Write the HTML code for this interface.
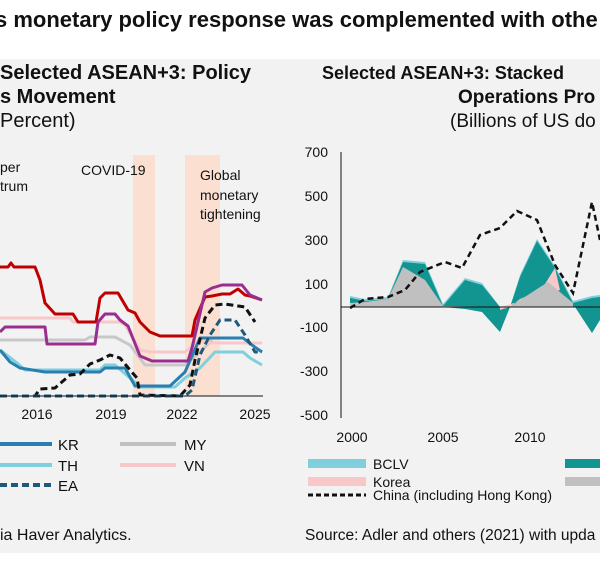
<!DOCTYPE html>
<html><head><meta charset="utf-8"><style>
body{margin:0;width:600px;height:565px;background:#fff;overflow:hidden;font-family:"Liberation Sans",Arial,sans-serif}
</style></head><body>
<svg width="600" height="565" viewBox="0 0 600 565" xmlns="http://www.w3.org/2000/svg" font-family="Liberation Sans, Arial, sans-serif">
<rect x="0" y="59" width="600" height="494" fill="#f2f2f2"/>
<text x="-5" y="27" font-size="22" font-weight="bold" fill="#111">s monetary policy response was complemented with othe</text>
<!-- left titles -->
<text x="0" y="79" font-size="20" font-weight="bold" fill="#111">Selected ASEAN+3: Policy</text>
<text x="0" y="103" font-size="20" font-weight="bold" fill="#111">s Movement</text>
<text x="0" y="127" font-size="20" fill="#111">Percent)</text>
<!-- right titles -->
<text x="322" y="79" font-size="18" font-weight="bold" fill="#111">Selected ASEAN+3: Stacked</text>
<text x="458" y="103" font-size="19" font-weight="bold" fill="#111">Operations Pro</text>
<text x="450" y="127" font-size="19" fill="#111">(Billions of US do</text>

<!-- left chart -->
<rect x="133" y="155" width="22" height="241" fill="#fbe0d2"/>
<rect x="185" y="155" width="35" height="241" fill="#fbe0d2"/>
<text x="0" y="172" font-size="14" fill="#111">per</text>
<text x="0" y="191" font-size="14" fill="#111">trum</text>
<text x="81" y="175" font-size="14" fill="#111">COVID-19</text>
<text x="200" y="180" font-size="14" fill="#111">Global</text>
<text x="200" y="200" font-size="14" fill="#111">monetary</text>
<text x="200" y="219" font-size="14" fill="#111">tightening</text>
<g fill="none" stroke-width="3" stroke-linejoin="round">
<polyline stroke="#c8c8c8" points="0,340 85,340 90,337 115,337 130,345 145,365 185,365 200,352 212,340"/>
<polyline stroke="#f8c8c8" points="0,318 70,318 73,322 120,322 125,325 140,350 150,352 185,352 200,340 205,343 262,343"/>
<polyline stroke="#7fd0dc" points="0,350 17,363 25,370 100,370 105,365 115,365 130,378 140,387 175,387 185,378 200,368 215,352 243,352 250,358 262,365"/>
<polyline stroke="#2a7fb0" points="0,350 10,362 20,368 45,372 100,372 105,368 125,368 135,386 170,386 185,372 200,338 243,338 252,345 262,352"/>
<polyline stroke="#c00000" points="0,267 8,267 11,263 14,267 35,267 40,280 45,303 55,314 73,314 78,322 96,322 100,298 105,293 118,293 128,310 135,313 140,322 150,332 160,336 192,336 195,320 205,297 212,296 222,294 230,294 238,289 245,295 250,296 262,300"/>
<polyline stroke="#9b2d8f" points="0,332 5,327 45,327 47,344 95,344 98,322 105,314 115,314 120,320 128,326 140,356 152,361 188,361 192,348 205,292 212,288 222,285 242,285 250,295 262,300"/>
<polyline stroke="#111" stroke-dasharray="7,4" points="0,396 35,396 40,389 55,388 70,375 80,374 90,364 100,360 110,355 120,358 130,370 137,378 140,395 180,396 190,385 195,360 205,318 215,305 225,304 245,307 255,322"/>
<polyline stroke="#1f5a7a" stroke-dasharray="7,4" points="0,396 185,396 192,390 200,355 210,335 220,320 235,320 245,335 255,352 262,352"/>
</g>
<line x1="0" y1="396" x2="263" y2="396" stroke="#111" stroke-width="1"/>
<g font-size="14" fill="#111" text-anchor="middle">
<text x="37" y="419">2016</text><text x="111" y="419">2019</text><text x="182" y="419">2022</text><text x="255" y="419">2025</text>
</g>
<!-- left legend -->
<g stroke-width="4">
<line x1="0" y1="444" x2="52" y2="444" stroke="#2a7fb0"/>
<line x1="120" y1="444" x2="176" y2="444" stroke="#c0c0c0"/>
<line x1="0" y1="465" x2="52" y2="465" stroke="#7fd0dc"/>
<line x1="120" y1="465" x2="176" y2="465" stroke="#f8c8c8"/>
<line x1="0" y1="485" x2="52" y2="485" stroke="#1f5a7a" stroke-dasharray="7,4"/>
</g>
<g font-size="15" fill="#111">
<text x="58" y="450">KR</text><text x="184" y="450">MY</text>
<text x="58" y="471">TH</text><text x="184" y="471">VN</text>
<text x="58" y="491">EA</text>
<text x="0" y="540" font-size="16">ia Haver Analytics.</text>
</g>

<!-- right chart -->
<g font-size="14" fill="#111" text-anchor="end">
<text x="328" y="157">700</text><text x="328" y="201">500</text><text x="328" y="245">300</text><text x="328" y="289">100</text><text x="328" y="332">-100</text><text x="328" y="376">-300</text><text x="328" y="420">-500</text>
</g>
<polygon fill="#7fd0dc" points="350,296 365,299 388,297 403,260 425,262 443,304 465,278 482,283 500,307 510,307 520,275 537,239 555,266 573,301 592,296 600,295 600,307 350,307"/>
<polygon fill="#129490" points="350,298 365,301 388,299 403,262 425,264 443,306 465,280 482,285 500,307 510,307 520,277 537,241 555,268 573,303 592,298 600,297 600,307 350,307"/>
<polygon fill="#129490" points="443,307 465,309 482,312 500,332 510,307"/>
<polygon fill="#129490" points="575,307 592,333 600,320 600,307"/>
<polygon fill="#f8c8c8" points="500,307 500,310 510,307 520,299 537,292 545,284 555,268 560,290"/>
<polygon fill="#c0c0c0" points="350,307 350,303 365,302 388,299 403,267 425,280 443,306 510,307 520,300 548,282 573,303 573,307"/>
<line x1="341" y1="152" x2="341" y2="418" stroke="#111" stroke-width="1"/>
<line x1="341" y1="307" x2="600" y2="307" stroke="#111" stroke-width="1"/>
<polyline fill="none" stroke="#111" stroke-width="2.5" stroke-dasharray="6,4" points="350,308 365,299 388,297 405,290 420,272 445,262 462,268 480,235 500,228 517,211 537,220 555,265 573,293 592,202 600,240"/>
<g font-size="14" fill="#111" text-anchor="middle">
<text x="352" y="442">2000</text><text x="443" y="442">2005</text><text x="530" y="442">2010</text>
</g>
<rect x="308" y="459" width="58" height="9" fill="#7fd0dc"/>
<rect x="308" y="477" width="58" height="9" fill="#f8c8c8"/>
<rect x="565" y="459" width="35" height="9" fill="#129490"/>
<rect x="565" y="477" width="35" height="9" fill="#c0c0c0"/>
<line x1="308" y1="495" x2="366" y2="495" stroke="#111" stroke-width="3" stroke-dasharray="5,3"/>
<g font-size="14" fill="#111">
<text x="373" y="469">BCLV</text>
<text x="373" y="487">Korea</text>
<text x="373" y="500">China (including Hong Kong)</text>
<text x="305" y="540" font-size="15.5">Source: Adler and others (2021) with upda</text>
</g>
</svg>
</body></html>
